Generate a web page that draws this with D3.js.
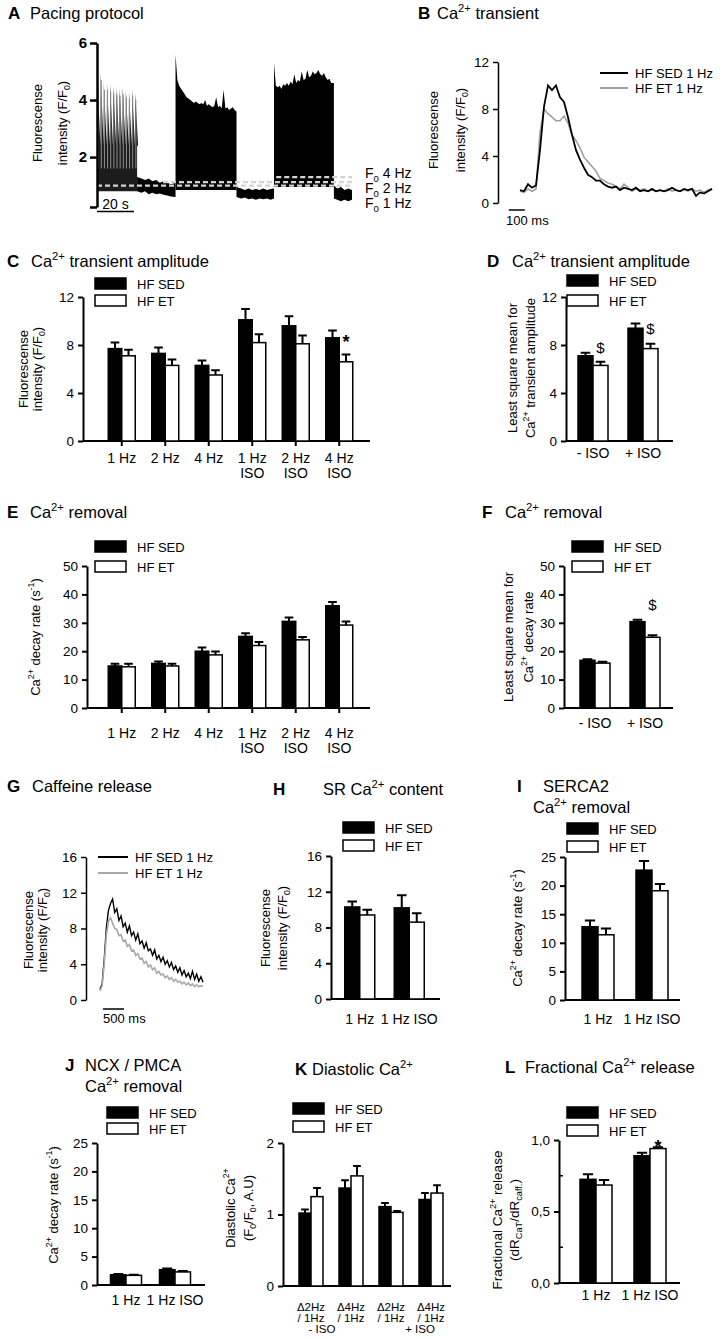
<!DOCTYPE html>
<meta charset="utf-8">
<script src="https://d3js.org/d3.v7.min.js"></script>
<style>
  body { margin: 0; background: #fff; }
  svg { font-family: "Liberation Sans", Arial, sans-serif; }
  text { white-space: pre; }
</style>
<body>
<script>
// ---------- A: pacing protocol (time in s, F/F0) ----------
const paceBeatTimes = [0.3, 2.0, 3.7, 5.4, 7.1, 8.8, 10.5, 12.2, 13.9, 15.6, 17.3, 19.0, 20.7];
const paceBeatPeaks = [4.65, 4.95, 4.6, 4.6, 4.55, 4.5, 4.45, 4.4, 4.45, 4.35, 4.3, 4.4, 4.25];
const pace1Span = [0, 21.7];
const pace1Trough = 2.4;
const pace2Times = [42.5, 43.5, 44.5, 45.5, 46.5, 47.5, 48.5, 49.5, 50.5, 51.5, 52.5, 53.5, 54.5, 55.5, 56.5, 57.5, 58.5,
                    59.5, 60.5, 61.5, 62.5, 63.5, 64.5, 65.5, 66.5, 67.5, 68.5, 69.5, 70.5, 71.5, 72.5, 73.5, 74.5, 75.5];
const pace2Top = [5.6, 4.7, 4.5, 4.4, 4.3, 4.2, 4.1, 4.05, 4.0, 3.95, 3.9, 3.95, 3.9, 3.85, 3.9, 3.85, 4.0,
                  3.8, 3.85, 3.8, 3.75, 3.8, 4.1, 3.75, 3.8, 3.7, 4.35, 3.7, 3.75, 3.65, 3.7, 3.75, 3.65, 3.6];
const pace3Times = [95.8, 96.8, 97.8, 98.8, 99.8, 100.8, 101.8, 102.8, 103.8, 104.8, 105.8, 106.8, 107.8, 108.8, 109.8, 110.8,
                    111.8, 112.8, 113.8, 114.8, 115.8, 116.8, 117.8, 118.8, 119.8, 120.8, 121.8, 122.8, 123.8, 124.8, 125.8, 126.8, 128.2];
const pace3Top = [5.3, 4.5, 4.45, 4.5, 4.4, 4.55, 4.5, 4.6, 4.5, 4.65, 4.55, 4.9, 4.6, 4.7, 4.65, 5.0,
                  4.7, 4.75, 5.05, 4.8, 4.85, 5.0, 4.9, 4.95, 5.05, 4.9, 4.85, 4.95, 4.8, 4.7, 4.75, 4.6, 4.6];
const paceBase = [0.8, 0.85, 0.95];   // diastolic floor of the three paced runs
const rest1Times = [21.7, 24, 26, 28, 30, 32, 34, 36, 38, 40, 42.5];
const rest1Top = [1.3, 1.25, 1.2, 1.25, 1.15, 1.2, 1.1, 1.15, 1.1, 1.05, 1.1];
const rest1Bot = [0.8, 0.75, 0.8, 0.7, 0.75, 0.7, 0.72, 0.68, 0.65, 0.62, 0.6];
const rest2Times = [75.5, 78, 80, 82, 84, 86, 88, 90, 92, 94, 95.8];
const rest2Top = [0.95, 0.9, 0.85, 0.9, 0.85, 0.88, 0.85, 0.9, 0.85, 0.88, 0.9];
const rest2Bot = [0.6, 0.55, 0.58, 0.52, 0.55, 0.5, 0.55, 0.52, 0.55, 0.5, 0.55];
const rest3Times = [128.2, 130, 132, 134, 136, 138];
const rest3Top = [1.0, 0.9, 0.95, 0.85, 0.9, 0.85];
const rest3Bot = [0.55, 0.5, 0.45, 0.5, 0.45, 0.5];
const f0Labels = ["1 Hz", "2 Hz", "4 Hz"];
const f0Levels = [1.0, 1.12, 1.3];
const f0Start = [0, 35.7, 97];

// ---------- B: Ca2+ transient (ms, F/F0) ----------
const bTimes = [0, 25, 50, 75, 100, 125, 150, 175, 200, 225, 250, 275, 300, 325, 350, 375, 400, 425, 450, 475, 500,
                525, 550, 575, 600, 625, 650, 675, 700, 725, 750, 775, 800, 825, 850, 875, 900, 925, 950, 975, 1000,
                1025, 1050, 1075, 1100, 1125, 1150, 1175, 1200];
const bSed = [1.1, 1.0, 1.6, 1.3, 1.5, 4.5, 8.2, 10.0, 9.6, 10.0, 9.0, 8.6, 7.3, 5.8, 4.5, 3.7, 3.0, 2.4, 2.2, 1.9, 1.9,
              1.6, 1.4, 1.3, 1.4, 1.1, 1.3, 1.2, 1.1, 1.3, 1.0, 1.1, 1.0, 1.2, 1.0, 1.1, 1.0, 1.1, 1.3, 1.1, 1.0,
              1.2, 1.1, 1.2, 0.6, 0.9, 0.8, 1.0, 1.2];
const bEt = [1.0, 0.9, 1.2, 1.0, 1.2, 6.0, 8.0, 7.6, 7.3, 7.0, 7.0, 7.4, 6.8, 5.8, 5.3, 4.7, 3.9, 3.5, 3.1, 2.7, 2.1,
             1.9, 1.7, 1.6, 1.4, 1.2, 1.6, 1.3, 1.0, 1.2, 1.1, 1.2, 1.0, 1.1, 1.0, 1.1, 1.0, 1.2, 1.0, 1.1, 1.0,
             1.1, 1.0, 1.2, 1.0, 1.1, 0.9, 1.1, 1.2];

// ---------- G: caffeine release (ms, F/F0) ----------
const gTimes = [0, 50, 100, 150, 200, 250, 300, 350, 400, 450, 500, 550, 600, 650, 700, 750, 800, 850, 900, 950,
                1000, 1050, 1100, 1150, 1200, 1250, 1300, 1350, 1400, 1450, 1500, 1550, 1600, 1650, 1700, 1750,
                1800, 1850, 1900, 1950, 2000, 2050, 2100, 2150, 2200, 2250, 2300, 2350, 2400, 2450];
const gSed = [1.2, 1.8, 4.5, 8.0, 10.0, 10.8, 11.3, 9.8, 10.2, 8.9, 9.4, 8.2, 8.6, 7.6, 8.3, 7.2, 7.6, 6.7, 7.4, 6.3,
              6.6, 5.8, 6.4, 5.5, 5.7, 5.0, 5.6, 4.6, 5.0, 4.3, 4.8, 4.0, 4.4, 3.7, 4.2, 3.4, 3.8, 3.1, 3.6, 2.8,
              3.3, 2.6, 3.0, 2.4, 3.2, 2.3, 2.9, 2.1, 2.6, 2.0];
const gEt = [1.0, 1.6, 4.0, 7.2, 8.8, 9.2, 8.6, 8.0, 7.9, 7.2, 7.3, 6.6, 6.7, 6.0, 6.2, 5.5, 5.6, 5.0, 5.2, 4.6,
             4.7, 4.1, 4.3, 3.7, 3.9, 3.4, 3.6, 3.0, 3.2, 2.8, 2.9, 2.5, 2.7, 2.3, 2.5, 2.1, 2.3, 2.0, 2.1, 1.8,
             2.0, 1.7, 1.9, 1.6, 1.8, 1.5, 1.7, 1.5, 1.6, 1.5];

// ---------- bar panels (mean, SEM) ----------
const legendLabels = ["HF SED", "HF ET"];
const freqCats = [["1 Hz"], ["2 Hz"], ["4 Hz"], ["1 Hz", "ISO"], ["2 Hz", "ISO"], ["4 Hz", "ISO"]];
const isoCats = [["- ISO"], ["+ ISO"]];
const hzCats = [["1 Hz"], ["1 Hz ISO"]];
const kCats = [["\u03942Hz", "/ 1Hz"], ["\u03944Hz", "/ 1Hz"], ["\u03942Hz", "/ 1Hz"], ["\u03944Hz", "/ 1Hz"]];
const kGroups = ["- ISO", "+ ISO"];

const cSed = [7.7, 7.3, 6.3, 10.1, 9.6, 8.6],     cSedErr = [0.5, 0.5, 0.4, 0.9, 0.8, 0.6];
const cEt  = [7.1, 6.3, 5.5, 8.2, 8.1, 6.6],      cEtErr  = [0.5, 0.5, 0.4, 0.7, 0.7, 0.6];
const dSed = [7.1, 9.4],  dSedErr = [0.25, 0.4];
const dEt  = [6.3, 7.7],  dEtErr  = [0.3, 0.4];
const eSed = [14.8, 15.7, 20.0, 25.2, 30.5, 36.0], eSedErr = [0.8, 0.7, 1.3, 1.1, 1.4, 1.3];
const eEt  = [14.5, 14.8, 18.7, 22.0, 24.0, 29.2], eEtErr  = [1.1, 0.8, 1.2, 1.2, 1.0, 1.3];
const fSed = [16.8, 30.4], fSedErr = [0.4, 0.7];
const fEt  = [15.8, 24.9], fEtErr  = [0.5, 0.7];
const hSed = [10.3, 10.2], hSedErr = [0.6, 1.4];
const hEt  = [9.4, 8.6],   hEtErr  = [0.6, 1.0];
const iSed = [12.8, 22.7], iSedErr = [1.1, 1.6];
const iEt  = [11.4, 19.1], iEtErr  = [1.1, 1.2];
const jSed = [1.8, 2.7],   jSedErr = [0.15, 0.2];
const jEt  = [1.7, 2.3],   jEtErr  = [0.1, 0.15];
const kSed = [1.02, 1.37, 1.11, 1.21], kSedErr = [0.05, 0.11, 0.05, 0.09];
const kEt  = [1.25, 1.54, 1.03, 1.30], kEtErr  = [0.12, 0.14, 0.02, 0.11];
const lSed = [0.725, 0.89], lSedErr = [0.035, 0.02];
const lEt  = [0.685, 0.94], lEtErr  = [0.035, 0.01];

// significance marks: category, series (1 = ET), height of the glyph centre
const cMarks = [{i: 5, k: 1, v: 8.6, s: "*"}];
const dMarks = [{i: 0, k: 1, v: 7.75, s: "$"}, {i: 1, k: 1, v: 9.4, s: "$"}];
const fMarks = [{i: 1, k: 1, v: 36.3, s: "$"}];
const lMarks = [{i: 1, k: 1, v: 0.985, s: "*"}];

const svg = d3.select("body").append("svg").attr("width", 722).attr("height", 1339);

// text with sub/superscript parts: "txt" or ["txt", "sup"|"sub"]
function rich(sel, parts, fs) {
  let shift = 0;
  parts.forEach(p => {
    const [s, m] = typeof p === "string" ? [p, ""] : p;
    const off = m === "sup" ? -fs * 0.4 : m === "sub" ? fs * 0.28 : 0;
    sel.append("tspan").attr("dy", off - shift).attr("font-size", m ? fs * 0.68 : fs).text(s);
    shift = off;
  });
  return sel;
}
const ca = ["Ca", ["2+", "sup"]];
const flu = [{parts: ["Fluorescense"]}, {parts: ["intensity (F/F", ["0", "sub"], ")"]}];

function title(letter, lx, lines) {
  svg.append("text").attr("x", lx).attr("y", lines[0].y).attr("font-size", 17).attr("font-weight", "bold").text(letter);
  lines.forEach(l => rich(svg.append("text").attr("x", l.x).attr("y", l.y).attr("font-size", 16.5), l.parts, 16.5));
}

function yLabel(lines, xs, cy, fs = 13) {
  lines.forEach((l, j) => rich(svg.append("text")
      .attr("transform", `translate(${xs[j] + 4.5},${cy}) rotate(-90)`)
      .attr("text-anchor", "middle").attr("font-size", fs), l.parts, fs));
}

function styleAxis(g, fs, w = 2, bold = false) {
  g.attr("font-family", null).attr("font-size", fs);
  g.select(".domain").attr("stroke-width", w);
  g.selectAll(".tick line").attr("stroke-width", w);
  g.selectAll(".tick text").attr("fill", "#000").attr("font-weight", bold ? "bold" : null);
}

// ---------- A ----------
title("A", 8, [{x: 30, y: 19, parts: ["Pacing protocol"]}]);
{
  const x = d3.scaleLinear().domain([0, 138]).range([97, 352]);
  const y = d3.scaleLinear().domain([0.25, 6]).range([207, 43]);
  const band = d3.area().x(d => x(d[0])).y0(d => y(d[2])).y1(d => y(d[1]));
  [[rest1Times, rest1Top, rest1Bot], [rest2Times, rest2Top, rest2Bot], [rest3Times, rest3Top, rest3Bot]]
    .forEach(([t, a, b]) => svg.append("path").datum(d3.zip(t, a, b)).attr("d", band).attr("fill", "#000"));

  // 1 Hz run: individual beats
  const saw = [[pace1Span[0], pace1Trough, paceBase[0]]];
  paceBeatTimes.forEach((t, i) => { saw.push([t, paceBeatPeaks[i], paceBase[0]]); saw.push([t + 1.55, pace1Trough, paceBase[0]]); });
  saw.push([pace1Span[1], pace1Trough, paceBase[0]]);
  svg.append("path").datum(saw).attr("d", band).attr("fill", "#1c1c1c");
  svg.selectAll(null).data(paceBeatTimes).join("line")
    .attr("x1", d => x(d) + 0.6).attr("x2", d => x(d) + 0.6)
    .attr("y1", y(1.6)).attr("y2", (d, i) => y(paceBeatPeaks[i] - 0.25))
    .attr("stroke", "#8f8f8f").attr("stroke-width", 1);

  // 2 Hz and 4 Hz runs: dense beats, drawn as envelope
  [[pace2Times, pace2Top, paceBase[1]], [pace3Times, pace3Top, paceBase[2]]].forEach(([t, top, b]) =>
    svg.append("path").datum(d3.zip(t, top, t.map(() => b))).attr("d", band).attr("fill", "#000"));

  // F0 levels
  f0Levels.forEach((v, i) => svg.append("line")
    .attr("x1", x(f0Start[i])).attr("x2", x(138)).attr("y1", y(v)).attr("y2", y(v))
    .attr("stroke", "#d4d4d4").attr("stroke-width", 2.2).attr("stroke-dasharray", "5,3"));
  const f0LabelY = [208, 193, 178];
  f0Labels.forEach((s, i) => rich(svg.append("text").attr("x", 365).attr("y", f0LabelY[i]).attr("font-size", 14),
    ["F", ["0", "sub"], " " + s], 14));

  const ax = d3.axisLeft(y).tickValues([0.25, 2, 4, 6]).tickFormat(d => d < 1 ? "" : d).tickSize(7).tickPadding(3).tickSizeOuter(0);
  svg.append("g").attr("transform", "translate(97,0)").call(ax).call(styleAxis, 15, 2.5, true);

  svg.append("line").attr("x1", x(0)).attr("x2", x(20)).attr("y1", 211.5).attr("y2", 211.5).attr("stroke", "#000").attr("stroke-width", 1.5);
  svg.append("text").attr("x", x(10)).attr("y", 209).attr("text-anchor", "middle").attr("font-size", 14).text("20 s");
  yLabel(flu, [37, 62], 123);
}

// ---------- B ----------
title("B", 418, [{x: 437, y: 19, parts: [...ca, " transient"]}]);
{
  const x = d3.scaleLinear().domain([0, 1200]).range([520, 712]);
  const y = d3.scaleLinear().domain([0, 12]).range([203, 62]);
  const line = d3.line().x(d => x(d[0])).y(d => y(d[1]));
  svg.append("path").datum(d3.zip(bTimes, bEt)).attr("d", line).attr("fill", "none").attr("stroke", "#a0a0a0").attr("stroke-width", 1.6);
  svg.append("path").datum(d3.zip(bTimes, bSed)).attr("d", line).attr("fill", "none").attr("stroke", "#000").attr("stroke-width", 1.8);
  const ax = d3.axisLeft(y).tickValues([0, 4, 8, 12]).tickSize(5).tickPadding(4).tickSizeOuter(0);
  svg.append("g").attr("transform", "translate(498,0)").call(ax).call(styleAxis, 13.5, 1.5);
  svg.append("line").attr("x1", x(-70)).attr("x2", x(30)).attr("y1", 210).attr("y2", 210).attr("stroke", "#000").attr("stroke-width", 1.5);
  svg.append("text").attr("x", 506).attr("y", 225).attr("font-size", 13).text("100 ms");
  [["#000", 73], ["#a0a0a0", 88]].forEach(([c, ly], i) => {
    svg.append("line").attr("x1", 600).attr("x2", 628).attr("y1", ly).attr("y2", ly).attr("stroke", c).attr("stroke-width", 2);
    svg.append("text").attr("x", 635).attr("y", ly + 5).attr("font-size", 13).text(legendLabels[i] + " 1 Hz");
  });
  yLabel(flu, [433, 460], 130);
}

// ---------- G ----------
title("G", 7, [{x: 32, y: 792, parts: ["Caffeine release"]}]);
{
  const x = d3.scaleLinear().domain([0, 2450]).range([100, 203]);
  const y = d3.scaleLinear().domain([0, 16]).range([1000, 857]);
  const line = d3.line().x(d => x(d[0])).y(d => y(d[1]));
  svg.append("path").datum(d3.zip(gTimes, gSed)).attr("d", line).attr("fill", "none").attr("stroke", "#000").attr("stroke-width", 1.4);
  svg.append("path").datum(d3.zip(gTimes, gEt)).attr("d", line).attr("fill", "none").attr("stroke", "#a8a8a8").attr("stroke-width", 1.6);
  const ax = d3.axisLeft(y).tickValues([0, 4, 8, 12, 16]).tickSize(5).tickPadding(4).tickSizeOuter(0);
  svg.append("g").attr("transform", "translate(86,0)").call(ax).call(styleAxis, 13.5, 1.5);
  svg.append("line").attr("x1", x(70)).attr("x2", x(570)).attr("y1", 1009).attr("y2", 1009).attr("stroke", "#000").attr("stroke-width", 1.5);
  svg.append("text").attr("x", 103).attr("y", 1023).attr("font-size", 13).text("500 ms");
  [["#000", 857], ["#a8a8a8", 873]].forEach(([c, ly], i) => {
    svg.append("line").attr("x1", 98).attr("x2", 128).attr("y1", ly).attr("y2", ly).attr("stroke", c).attr("stroke-width", 2);
    svg.append("text").attr("x", 135).attr("y", ly + 5).attr("font-size", 13).text(legendLabels[i] + " 1 Hz");
  });
  yLabel(flu, [28, 42], 930);
}

// ---------- bar panels ----------
function barPanel(p) {
  const g = svg.append("g");
  const y = d3.scaleLinear().domain([0, p.ymax]).range([p.y0, p.y1]);
  const x = d3.scaleBand().domain(d3.range(p.cats.length)).range(p.band);
  const cx = i => x(i) + x.bandwidth() / 2;
  const ax = d3.axisLeft(y).tickValues(p.ticks).tickSize(5).tickPadding(4).tickSizeOuter(0)
    .tickFormat(p.fmt || (d => d));
  g.append("g").attr("transform", `translate(${p.ax},0)`).call(ax).call(styleAxis, 13.5, 2);
  (p.minor || []).forEach(v => g.append("line").attr("x1", p.ax).attr("x2", p.ax + 4)
    .attr("y1", y(v)).attr("y2", y(v)).attr("stroke", "#000").attr("stroke-width", 1.5));
  g.append("line").attr("x1", p.ax).attr("x2", p.right).attr("y1", y(0)).attr("y2", y(0))
    .attr("stroke", "#000").attr("stroke-width", 2);
  if (p.xticks) p.cats.forEach((c, i) => g.append("line").attr("x1", cx(i)).attr("x2", cx(i))
    .attr("y1", y(0)).attr("y2", y(0) + 5).attr("stroke", "#000").attr("stroke-width", 2));

  [[p.sed, p.sedErr, "#000", -1], [p.et, p.etErr, "#fff", 0]].forEach(([vals, errs, fill, off]) => {
    const bx = i => cx(i) + off * p.bw;
    g.selectAll(null).data(vals).join("rect")
      .attr("x", (d, i) => bx(i)).attr("y", d => y(d))
      .attr("width", p.bw).attr("height", d => y(0) - y(d))
      .attr("fill", fill).attr("stroke", "#000").attr("stroke-width", 1.5);
    const cap = p.bw * 0.32;
    g.selectAll(null).data(vals).join("path")
      .attr("d", (d, i) => {
        const m = bx(i) + p.bw / 2, top = y(d + errs[i]);
        return `M${m},${y(d)}V${top}M${m - cap},${top}H${m + cap}`;
      })
      .attr("fill", "none").attr("stroke", "#000").attr("stroke-width", 2);
  });

  const fs = p.catFs || 14, gap = p.catGap || 15;
  p.cats.forEach((lines, i) => lines.forEach((s, j) => g.append("text")
    .attr("x", cx(i)).attr("y", p.labelY + j * gap).attr("text-anchor", "middle").attr("font-size", fs).text(s)));
  if (p.groups) p.groups.forEach((s, k) => g.append("text")
    .attr("x", k === 0 ? cx(0) + 11 : cx(3) - 11).attr("y", p.labelY + 2 * gap)
    .attr("text-anchor", "middle").attr("font-size", fs).text(s));

  const [lx, ly, lg] = p.leg;
  ["#000", "#fff"].forEach((c, k) => {
    g.append("rect").attr("x", lx).attr("y", ly + k * lg).attr("width", 31).attr("height", 11)
      .attr("fill", c).attr("stroke", "#000").attr("stroke-width", 1.5);
    g.append("text").attr("x", lx + 42).attr("y", ly + k * lg + 10.5).attr("font-size", 13).text(legendLabels[k]);
  });

  (p.marks || []).forEach(m => g.append("text")
    .attr("x", cx(m.i) + (m.k ? p.bw / 2 : -p.bw / 2))
    .attr("y", y(m.v) + (m.s === "*" ? 10.5 : 5.3))
    .attr("text-anchor", "middle")
    .attr("font-size", m.s === "*" ? 18 : 15).attr("font-weight", m.s === "*" ? "bold" : null)
    .text(m.s));

  yLabel(p.ylab, p.ylabX, p.ylabY, p.ylabFs || 13);
}

const decay = [{parts: [...ca, " decay rate (s", ["-1", "sup"], ")"]}];

title("C", 7, [{x: 31, y: 267, parts: [...ca, " transient amplitude"]}]);
barPanel({ax: 83, right: 370, y0: 441, y1: 297, ymax: 12, ticks: [0, 4, 8, 12], band: [100, 361], bw: 13.5,
  cats: freqCats, sed: cSed, sedErr: cSedErr, et: cEt, etErr: cEtErr, xticks: true, labelY: 463,
  leg: [95, 278, 17], marks: cMarks, ylab: flu, ylabX: [23, 37], ylabY: 369});

title("D", 487, [{x: 512, y: 267, parts: [...ca, " transient amplitude"]}]);
barPanel({ax: 566, right: 673, y0: 441, y1: 297, ymax: 12, ticks: [0, 4, 8, 12], band: [568, 668], bw: 15,
  cats: isoCats, sed: dSed, sedErr: dSedErr, et: dEt, etErr: dEtErr, labelY: 458,
  leg: [567, 275, 20], marks: dMarks,
  ylab: [{parts: ["Least square mean for"]}, {parts: [...ca, " transient amplitude"]}], ylabX: [512, 530], ylabY: 368});

title("E", 7, [{x: 30, y: 518, parts: [...ca, " removal"]}]);
barPanel({ax: 87, right: 370, y0: 708, y1: 566, ymax: 50, ticks: [0, 10, 20, 30, 40, 50], band: [100, 361], bw: 13.5,
  cats: freqCats, sed: eSed, sedErr: eSedErr, et: eEt, etErr: eEtErr, xticks: true, labelY: 738,
  leg: [95, 541, 20], ylab: decay, ylabX: [35], ylabY: 637});

title("F", 482, [{x: 505, y: 518, parts: [...ca, " removal"]}]);
barPanel({ax: 564, right: 673, y0: 708, y1: 566, ymax: 50, ticks: [0, 10, 20, 30, 40, 50], band: [570, 670], bw: 15,
  cats: isoCats, sed: fSed, sedErr: fSedErr, et: fEt, etErr: fEtErr, labelY: 728,
  leg: [572, 541, 20], marks: fMarks,
  ylab: [{parts: ["Least square mean for"]}, {parts: [...ca, " decay rate"]}], ylabX: [508, 528], ylabY: 637});

title("H", 273, [{x: 323, y: 795, parts: ["SR ", ...ca, " content"]}]);
barPanel({ax: 331, right: 440, y0: 999, y1: 856, ymax: 16, ticks: [0, 4, 8, 12, 16], band: [335, 434], bw: 15,
  cats: hzCats, sed: hSed, sedErr: hSedErr, et: hEt, etErr: hEtErr, labelY: 1024,
  leg: [343, 822, 18], ylab: flu, ylabX: [265, 282], ylabY: 928});

title("I", 517, [{x: 543, y: 792, parts: ["SERCA2"]}, {x: 533, y: 813, parts: [...ca, " removal"]}]);
barPanel({ax: 565, right: 680, y0: 1000, y1: 857, ymax: 25, ticks: [0, 5, 10, 15, 20, 25], band: [571, 679], bw: 16,
  cats: hzCats, sed: iSed, sedErr: iSedErr, et: iEt, etErr: iEtErr, labelY: 1024,
  leg: [567, 823, 18], ylab: decay, ylabX: [517], ylabY: 928});

title("J", 65, [{x: 85, y: 1071, parts: ["NCX / PMCA"]}, {x: 85, y: 1092, parts: [...ca, " removal"]}]);
barPanel({ax: 97, right: 205, y0: 1285, y1: 1143, ymax: 25, ticks: [0, 5, 10, 15, 20, 25], band: [101.5, 199.5], bw: 15.5,
  cats: hzCats, sed: jSed, sedErr: jSedErr, et: jEt, etErr: jEtErr, labelY: 1305,
  leg: [107, 1107, 16], ylab: decay, ylabX: [53], ylabY: 1205});

title("K", 295, [{x: 312, y: 1075, parts: ["Diastolic ", ...ca]}]);
barPanel({ax: 283, right: 451, y0: 1286, y1: 1143, ymax: 2, ticks: [0, 1, 2], band: [291, 451], bw: 12,
  cats: kCats, groups: kGroups, catFs: 11.5, catGap: 11, sed: kSed, sedErr: kSedErr, et: kEt, etErr: kEtErr, labelY: 1311,
  leg: [293, 1103, 18],
  ylab: [{parts: ["Diastolic ", ...ca]}, {parts: ["(F", ["0", "sub"], "/F", ["0", "sub"], ", A.U)"]}], ylabX: [230, 248], ylabY: 1208});

title("L", 505, [{x: 525, y: 1073, parts: ["Fractional ", ...ca, " release"]}]);
barPanel({ax: 559, right: 680, y0: 1283, y1: 1140, ymax: 1, ticks: [0, 0.5, 1], minor: [0.25, 0.75],
  fmt: d => d3.format(".1f")(d).replace(".", ","), band: [569, 677], bw: 16,
  cats: hzCats, sed: lSed, sedErr: lSedErr, et: lEt, etErr: lEtErr, labelY: 1300,
  leg: [567, 1107, 18], marks: lMarks,
  ylab: [{parts: ["Fractional ", ...ca, " release"]}, {parts: ["(dR", ["CaT", "sub"], "/dR", ["caff.", "sub"], ")"]}],
  ylabX: [497, 514], ylabY: 1220, ylabFs: 13.5});
</script>
</body>
